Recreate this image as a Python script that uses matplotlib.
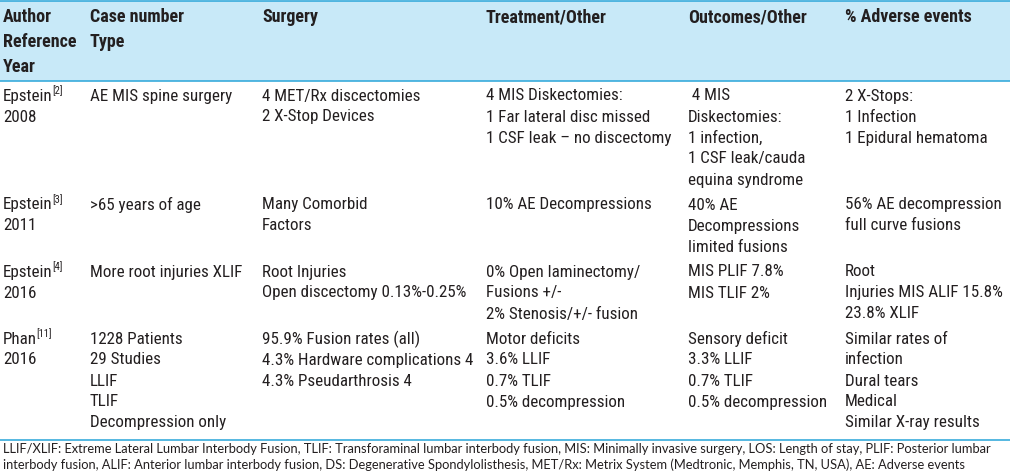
import matplotlib
matplotlib.use("Agg")
import matplotlib.pyplot as plt
from matplotlib import font_manager
from matplotlib.font_manager import FontProperties
from matplotlib.textpath import TextPath

# table content
headers = [
    ["Author", "Reference", "Year"],
    ["Case number", "Type"],
    ["Surgery"],
    ["Treatment/Other"],
    ["Outcomes/Other"],
    ["% Adverse events"],
]
authors = ["Epstein", "Epstein", "Epstein", "Phan"]
refs = ["[2]", "[3]", "[4]", "[11]"]
years = ["2008", "2011", "2016", "2016"]
case_type = [
    ["AE MIS spine surgery"],
    [">65 years of age"],
    ["More root injuries XLIF"],
    ["1228 Patients", "29 Studies", "LLIF", "TLIF", "Decompression only"],
]
surgery = [
    ["4 MET/Rx discectomies", "2 X-Stop Devices"],
    ["Many Comorbid", "Factors"],
    ["Root Injuries", "Open discectomy 0.13%-0.25%"],
    ["95.9% Fusion rates (all)", "4.3% Hardware complications 4", "4.3% Pseudarthrosis 4"],
]
treatment = [
    ["4 MIS Diskectomies:", "1 Far lateral disc missed", "1 CSF leak \u2013 no discectomy"],
    ["10% AE Decompressions"],
    ["0% Open laminectomy/", "Fusions +/-", "2% Stenosis/+/- fusion"],
    ["Motor deficits", "3.6% LLIF", "0.7% TLIF", "0.5% decompression"],
]
outcomes = [
    [" 4 MIS", "Diskectomies:", "1 infection,", "1 CSF leak/cauda", "equina syndrome"],
    ["40% AE", "Decompressions", "limited fusions"],
    ["MIS PLIF 7.8%", "MIS TLIF 2%"],
    ["Sensory deficit", "3.3% LLIF", "0.7% TLIF", "0.5% decompression"],
]
adverse = [
    ["2 X-Stops:", "1 Infection", "1 Epidural hematoma"],
    ["56% AE decompression", "full curve fusions"],
    ["Root", "Injuries MIS ALIF 15.8%", "23.8% XLIF"],
    ["Similar rates of", "infection", "Dural tears", "Medical", "Similar X-ray results"],
]
footnote = [
    "LLIF/XLIF: Extreme Lateral Lumbar Interbody Fusion, TLIF: Transforaminal lumbar interbody fusion, "
    "MIS: Minimally invasive surgery, LOS: Length of stay, PLIF: Posterior lumbar",
    "interbody fusion, ALIF: Anterior lumbar interbody fusion, DS: Degenerative Spondylolisthesis, "
    "MET/Rx: Metrix System (Medtronic, Memphis, TN, USA), AE: Adverse events",
]

# look
TEXT = "#231f20"
HEAD_BG = "#c8e9f8"
RULE = "#38abdc"
col_x = [3, 90, 262, 486, 688, 845]
head_y = [17, 42, 67]
line_h = 21
row_gap = 4
first_line = 96

WEIGHTS = {"light": 300, "normal": 400, "regular": 400, "book": 400, "medium": 500,
           "semibold": 600, "demibold": 600, "bold": 700}


def find_font(weights):
    """Pick a condensed sans if one is installed, else a plain narrow-ish one."""
    prefs = ["Roboto Condensed", "Liberation Sans Narrow", "DejaVu Sans",
             "Noto Sans", "Open Sans", "Roboto", "Liberation Sans"]
    fonts = font_manager.fontManager.ttflist
    for need_condensed in (True, False):
        for want in weights:
            for fam in prefs:
                for f in fonts:
                    if f.name != fam or f.style != "normal":
                        continue
                    w = f.weight if isinstance(f.weight, int) else WEIGHTS.get(str(f.weight).lower(), 400)
                    if w != want:
                        continue
                    narrow = "condensed" in str(f.stretch) or "Narrow" in fam or "Condensed" in fam
                    if need_condensed and not narrow:
                        continue
                    if not need_condensed and fam == "DejaVu Sans":
                        continue
                    return FontProperties(fname=f.fname)
    return FontProperties(family="DejaVu Sans")


def text_px(text, prop, size):
    w = TextPath((0, 0), text, size=size, prop=prop).get_extents().width
    return w * 100 / 72


body_fp = find_font([400])
head_fp = find_font([700])
foot_fp = FontProperties(family=["Lato", "DejaVu Sans"])

body_size = 10 * 141 / text_px("AE MIS spine surgery", body_fp, 10)
head_size = 10 * 93 / text_px("Case number", head_fp, 10)
foot_size = 10 * 988 / text_px(footnote[0], foot_fp, 10)

fig = plt.figure(figsize=(10.10, 4.76), dpi=100)
ax = fig.add_axes([0, 0, 1, 1])
ax.set_xlim(0, 1010)
ax.set_ylim(476, 0)
ax.axis("off")

# header band and rules
ax.add_patch(plt.Rectangle((0, 1), 1010, 80, facecolor=HEAD_BG, edgecolor="none"))
ax.plot([0, 1010], [1, 1], color=RULE, lw=1.2)
ax.plot([0, 1010], [81, 81], color=RULE, lw=1.2)
ax.plot([0, 1010], [440, 440], color=RULE, lw=1.2)

for x, lines in zip(col_x, headers):
    for i, s in enumerate(lines):
        ax.text(x, head_y[i], s, fontproperties=head_fp, size=head_size,
                color=TEXT, va="center", ha="left")

# body rows
columns = [case_type, surgery, treatment, outcomes, adverse]
y0 = first_line
for r in range(len(authors)):
    cells = [[authors[r], years[r]]] + [c[r] for c in columns]
    for x, lines in zip(col_x, cells):
        for i, s in enumerate(lines):
            ax.text(x, y0 + i * line_h, s, fontproperties=body_fp, size=body_size,
                    color=TEXT, va="center", ha="left")
    # reference number as superscript after the author
    sx = col_x[0] + text_px(authors[r], body_fp, body_size) + 1.5
    ax.text(sx, y0 - 5, refs[r], fontproperties=body_fp, size=body_size * 0.62,
            color=TEXT, va="center", ha="left")
    n = max(len(c) for c in cells)
    y0 += n * line_h + row_gap

for i, s in enumerate(footnote):
    ax.text(3, 449 + i * 16, s, fontproperties=foot_fp, size=foot_size,
            color=TEXT, va="center", ha="left")

fig.savefig("out.png", dpi=100)
